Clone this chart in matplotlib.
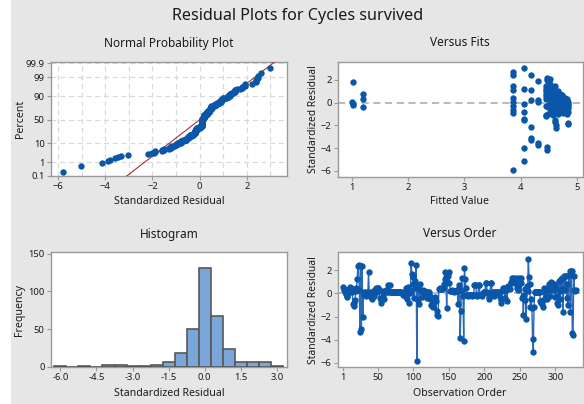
import matplotlib
matplotlib.use("Agg")
import matplotlib.pyplot as plt
import numpy as np
from statistics import NormalDist
from matplotlib.patches import Rectangle

# ---------------- data ----------------
residuals = [
    0.55, 0.4, 0.25, 0.1, -0.05, -0.2, -0.3, 0.0, 0.15, 0.35,
    0.55, 0.45, 0.3, 0.1, -0.95, -1.1, -0.8, -0.6, 0.2, 0.45,
    1.2, 2.4, 2.45, 0.3, -3.33, 2.4, -3.05, 2.4, -2.0, 0.1,
    -0.1, 0.0, -0.2, 0.1, -0.15, 0.05, 1.8, 0.1, -0.25, -0.1,
    -0.3, -0.5, 0.2, 0.0, -0.2, 0.3, 0.5, 0.4, 0.1, 0.45,
    0.5, 0.3, -0.4, -0.6, -0.8, 0.2, 0.1, -0.3, -0.5, 0.2,
    0.3, 0.1, 0.15, 0.7, 0.25, 0.1, 0.7, 0.1, 0.1, 0.1,
    0.1, 0.1, 0.12, 0.1, 0.1, 0.1, 0.08, 0.1, 0.1, 0.1,
    0.1, 0.1, 0.1, 0.05, -0.1, 0.0, 0.1, -0.2, 0.15, 0.5,
    -0.5, 0.55, 0.4, -0.8, 0.0, 0.3, 2.6, 1.7, 1.4, 0.8,
    -0.4, 1.1, 0.5, 2.45, -5.8, 0.6, -0.6, -0.9, 0.3, 0.8,
    0.2, -0.3, 0.1, 0.3, 0.15, 0.2, 0.1, 0.15, -0.4, 0.1,
    0.1, 0.1, -0.2, -0.5, -1.0, -1.1, -0.9, -1.2, -0.6, -0.3,
    -0.4, -0.7, -1.5, -1.9, -1.95, 0.4, 0.45, 0.4, 0.4, 0.4,
    0.4, 0.5, 0.8, 1.2, 1.8, 1.4, -1.3, 1.0, 1.5, 1.8,
    0.9, 0.2, 0.2, 0.25, 0.2, 0.2, 0.2, 0.15, 0.2, 0.2,
    0.2, 0.25, -0.9, 0.5, 0.7, -3.82, -1.5, 1.3, 0.2, -0.2,
    -4.15, 2.2, 1.2, 0.5, -0.15, -0.15, -0.2, -0.15, -0.15, -0.1,
    -0.15, -0.15, -0.2, -0.15, -0.1, 0.7, 0.7, 0.75, -0.15, -0.2,
    -0.15, 0.7, 0.7, -0.15, -0.1, -0.15, -0.2, 0.0, 0.1, 0.1,
    0.1, 0.9, 0.9, 0.1, 0.05, -0.5, -0.3, 0.0, 0.9, 0.9,
    0.1, 0.0, -0.2, 0.1, 0.15, 0.1, 0.0, 0.1, 0.15, 0.05,
    0.1, -0.3, -0.8, -0.6, 0.2, 0.3, 0.5, 0.5, -0.4, 0.3,
    0.5, -0.7, 0.5, 0.6, 0.5, 0.4, 0.9, 1.0, 1.3, 1.0,
    1.3, 0.9, 1.2, 1.0, 1.3, 0.5, 0.3, 0.6, 1.3, 1.0,
    1.3, 0.9, -0.4, -0.2, -1.9, -0.1, -0.6, 0.4, -2.2, 0.6,
    0.2, 3.0, 1.4, 0.8, -1.2, -0.5, -1.3, -3.9, -5.05, -1.2,
    0.1, 0.15, 0.1, 0.1, 0.1, 0.15, 0.1, 0.1, -0.7, -0.8,
    -0.9, -0.6, -1.2, 0.5, 0.1, 0.2, -0.3, 0.5, -0.5, 0.4,
    0.8, 0.3, -0.2, 1.0, 0.9, 0.5, 0.3, 0.8, -0.3, 0.6,
    0.4, -0.2, -0.8, -1.0, 1.1, 0.2, -0.5, 1.2, 0.4, 1.3,
    -1.6, 1.5, 0.3, 1.5, 1.5, -0.4, 0.8, -1.0, 1.6, 1.9,
    -1.6, 1.9, 1.9, -3.45, -3.6, 1.5, 0.3, 0.2, 0.25,
]

fits_x = [
    1.02, 1.0, 1.03, 1.02, 1.2, 1.2, 1.2,
    3.86, 3.86, 3.86, 3.86, 3.86, 3.86, 3.86, 3.86, 3.86, 3.86,
    4.05, 4.05, 4.05, 4.05, 4.05, 4.05, 4.05, 4.05,
    4.18, 4.18, 4.18, 4.18, 4.18, 4.18,
    4.31, 4.31, 4.31, 4.31, 4.31,
    4.47, 4.47, 4.47, 4.47,
    4.45, 4.45, 4.45, 4.45, 4.45, 4.45, 4.45, 4.45, 4.45,
    4.48, 4.48, 4.48, 4.48, 4.48, 4.48, 4.48, 4.48,
    4.52, 4.52, 4.52, 4.52, 4.52, 4.52, 4.52, 4.52, 4.52,
    4.56, 4.56, 4.56, 4.56, 4.56, 4.56, 4.56,
    4.6, 4.6, 4.6, 4.6, 4.6, 4.6, 4.6, 4.6, 4.6,
    4.63, 4.63, 4.63, 4.63, 4.63, 4.63, 4.63, 4.63,
    4.66, 4.66, 4.66, 4.66, 4.66, 4.66, 4.66,
    4.69, 4.69, 4.69, 4.69, 4.69, 4.69,
    4.72, 4.72, 4.72, 4.72, 4.72, 4.72,
    4.75, 4.75, 4.75, 4.75, 4.75, 4.75,
    4.78, 4.78, 4.78, 4.78, 4.78,
    4.81, 4.81, 4.81, 4.81, 4.81, 4.81,
    4.84, 4.84, 4.84, 4.84, 4.84, 4.84, 4.84,
]
fits_y = [
    1.78, 0.09, -0.12, -0.2, 0.77, 0.3, -0.41,
    2.67, 2.46, 1.48, 1.07, 0.39, 0.09, -0.3, -0.65, -0.95, -5.9,
    3.05, 1.19, -0.12, -0.8, -1.4, -1.54, -3.97, -5.16,
    2.46, 1.13, 0.24, -2.13, -3.08, -3.32,
    1.87, 0.24, 0.09, -3.56, -3.76,
    2.2, 2.0, -3.9, -4.2,
    1.5, 1.2, 1.0, 0.8, 0.6, 0.3, -0.3, -1.1, -1.2,
    1.9, 1.4, 1.1, 0.9, 0.7, -0.2, -0.4, -1.0,
    2.1, 1.6, 1.3, 0.9, 0.5, 0.2, -0.2, -0.5, -0.9,
    1.1, 0.8, 0.4, 0.1, -0.3, -0.6, -1.1,
    1.5, 0.7, 0.3, 0.0, -0.2, -0.5, -0.9, -1.5, -1.7,
    0.9, 0.6, 0.2, -0.1, -0.4, -0.8, -2.0, -2.2,
    1.0, 0.7, 0.4, 0.1, -0.2, -0.6, -1.0,
    0.8, 0.5, 0.3, 0.0, -0.3, -0.7,
    0.7, 0.4, 0.1, -0.1, -0.4, -0.8,
    0.5, 0.3, 0.0, -0.2, -0.5, -0.9,
    0.4, 0.2, -0.1, -0.3, -0.6,
    0.3, 0.0, -0.2, -0.4, -0.7, -1.0,
    0.1, -0.1, -0.3, -0.5, -0.8, -1.8, -1.9,
]

hist_centers = [-6.0, -5.5, -5.0, -4.5, -4.0, -3.5, -3.0, -2.5, -2.0, -1.5,
                -1.0, -0.5, 0.0, 0.5, 1.0, 1.5, 2.0, 2.5, 3.0]
hist_counts = [1, 0, 1, 0, 2, 2, 1, 1, 3, 7,
               18, 50, 131, 67, 24, 7, 7, 6, 1]

prob_ticks = [0.1, 1, 10, 50, 90, 99, 99.9]
prob_labels = ["0.1", "1", "10", "50", "90", "99", "99.9"]

# ---------------- style ----------------
FONT = "Noto Sans"
plt.rcParams["font.family"] = [FONT, "DejaVu Sans"]
BLUE = "#0a56a8"
BG = "#e6e6e6"
SPINE = "#9a9a9a"
TXT = "#1a1a1a"
MS = 21

W, H = 584, 404
fig = plt.figure(figsize=(W / 100, H / 100), dpi=100, facecolor="white")
fig.patches.append(Rectangle((11 / W, 0), 1 - 11 / W, 1, transform=fig.transFigure,
                             facecolor=BG, edgecolor="none", zorder=-10))


def make_ax(x0, y0, x1, y1):
    ax = fig.add_axes([x0 / W, 1 - y1 / H, (x1 - x0) / W, (y1 - y0) / H])
    for s in ax.spines.values():
        s.set_color(SPINE)
        s.set_linewidth(1.0)
    ax.tick_params(direction="out", length=3, width=0.8, color=SPINE,
                   labelsize=6.8, labelcolor=TXT, pad=1.5)
    return ax


def ftext(x, y, s, size=8.5, **kw):
    fig.text(x / W, 1 - y / H, s, fontsize=size, color=TXT, ha="center", va="center", **kw)


ND = NormalDist()
res = np.array(residuals)
n = len(res)

# ---- Normal probability plot ----
ax1 = make_ax(51, 62, 287, 176)
srt = np.sort(res)
pct = (np.arange(1, n + 1) - 0.3) / (n + 0.4)
zq = np.array([ND.inv_cdf(p) for p in pct])
ax1.set_xlim(-6.3, 3.7)
ax1.set_ylim(ND.inv_cdf(0.001), 3.17)
ax1.set_xticks([-6, -4, -2, 0, 2])
ax1.set_xticks(np.arange(-6, 4, 1), minor=True)
ax1.tick_params(which="minor", length=0)
ytk = [ND.inv_cdf(p / 100) for p in prob_ticks]
ax1.set_yticks(ytk)
ax1.set_yticklabels(prob_labels)
ax1.grid(True, which="both", linestyle=(0, (4, 3)), color="#d9d9d9", linewidth=0.9)
ax1.set_axisbelow(True)
mu, sd = 0.0, 1.0
zline = np.array([ND.inv_cdf(0.001), 3.3])
ax1.plot(mu + sd * zline, zline, color="#a8322d", linewidth=0.8, zorder=3)
ax1.scatter(srt, zq, s=MS, color=BLUE, zorder=4, linewidths=0)

# ---- Versus fits ----
ax2 = make_ax(338, 62, 583, 177)
ax2.set_xlim(0.76, 5.1)
ax2.set_ylim(-6.55, 3.58)
ax2.set_xticks([1, 2, 3, 4, 5])
ax2.set_yticks([2, 0, -2, -4, -6])
ax2.axhline(0, color="#b4b4b4", linestyle=(0, (4, 2.5)), linewidth=1.3, zorder=1)
ax2.scatter(fits_x, fits_y, s=MS, color=BLUE, zorder=3, linewidths=0)

# ---- Histogram ----
ax3 = make_ax(51, 252, 287, 367)
ax3.bar(hist_centers, hist_counts, width=0.5, color="#7ba6da", edgecolor="#585858",
        linewidth=1.2, zorder=3)
ax3.set_xlim(-6.39, 3.42)
ax3.set_ylim(0, 152)
ax3.set_xticks([-6.0, -4.5, -3.0, -1.5, 0.0, 1.5, 3.0])
ax3.set_xticklabels(["-6.0", "-4.5", "-3.0", "-1.5", "0.0", "1.5", "3.0"])
ax3.set_yticks([0, 50, 100, 150])

# ---- Versus order ----
ax4 = make_ax(338, 252, 583, 367)
obs = np.arange(1, n + 1)
ax4.set_xlim(-6, 339)
ax4.set_ylim(-6.36, 3.57)
ax4.set_xticks([1, 50, 100, 150, 200, 250, 300])
ax4.set_yticks([2, 0, -2, -4, -6])
ax4.axhline(0, color="#b4b4b4", linestyle=(0, (4, 2.5)), linewidth=1.3, zorder=1)
ax4.plot(obs, res, color="#2b68b5", linewidth=1.0, zorder=2)
ax4.scatter(obs, res, s=MS, color=BLUE, zorder=3, linewidths=0)

# ---- texts ----
ftext(298, 16, "Residual Plots for Cycles survived", size=11.6)
ftext(169, 44, "Normal Probability Plot", size=8.5)
ftext(460, 43, "Versus Fits", size=8.5)
ftext(169, 235, "Histogram", size=8.5)
ftext(460, 234, "Versus Order", size=8.5)
ftext(169, 201, "Standardized Residual", size=7.6)
ftext(460, 202, "Fitted Value", size=7.6)
ftext(169, 393, "Standardized Residual", size=7.6)
ftext(460, 393, "Observation Order", size=7.6)
ftext(21, 119, "Percent", size=7.6, rotation=90)
ftext(19, 310, "Frequency", size=7.6, rotation=90)
ftext(313, 119, "Standardized Residual", size=7.4, rotation=90)
ftext(313, 310, "Standardized Residual", size=7.4, rotation=90)

fig.savefig("out.png", dpi=100, facecolor=fig.get_facecolor())
